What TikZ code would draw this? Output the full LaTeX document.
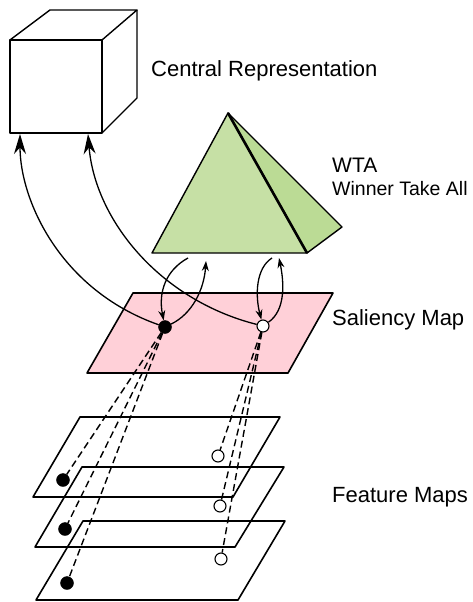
\documentclass[tikz,border=0pt]{standalone}
\usepackage{fontspec}
\setmainfont{Liberation Sans}
\usetikzlibrary{arrows.meta}
\definecolor{wtafront}{HTML}{C6E0A5}
\definecolor{wtaside}{HTML}{BBDB95}
\definecolor{salpink}{HTML}{FFD0D8}
\tikzset{
  blackdot/.style={circle, fill=black, draw=black, inner sep=0pt, minimum size=13pt},
  whitedot/.style={circle, fill=white, draw=black, line width=1.1pt, inner sep=0pt, minimum size=12pt},
  bigarrow/.style={-{Stealth[length=20pt, width=12pt]}, line width=1.3pt},
  smallarrow/.style={-{Stealth[length=10pt, width=7pt]}, line width=1.3pt},
  link/.style={dashed, dash pattern=on 7pt off 4pt, line width=1.4pt},
  mapedge/.style={line width=1.6pt, line join=round},
  label/.style={anchor=base west, inner sep=0pt, font=\fontsize{22}{26}\selectfont}
}
\begin{document}
\begin{tikzpicture}[x=1pt, y=-1pt]
        \useasboundingbox (0,0) rectangle (472,602);

        % central representation
        \draw[line width=1.4pt, line join=round] (10,40) rectangle (102,133);
        \draw[line width=1.4pt, line join=round] (10,40) -- (50,10) -- (137,10) -- (102,40);
        \draw[line width=1.4pt, line join=round] (137,10) -- (137,98) -- (102,133);
        \coordinate (c1) at (20,134);
        \coordinate (c2) at (88,134);
        \node[label] (central) at (151,77) {Central Representation};

        % winner take all
        \filldraw[fill=wtaside, draw=black, line width=1.4pt, line join=round] (228,113) -- (342,227) -- (307,253) -- cycle;
        \filldraw[fill=wtafront, draw=black, line width=1.4pt, line join=round] (228,113) -- (152,253) -- (307,253) -- cycle;
        \draw[line width=2.6pt] (228,113) -- (307,253);
        \coordinate (w1) at (188,258);
        \coordinate (w2) at (206,261);
        \coordinate (w3) at (272,258);
        \coordinate (w4) at (279,258);
        \node[label, font=\fontsize{21}{25}\selectfont] (wta) at (332,172) {WTA};
        \node[label, font=\fontsize{19.5}{23}\selectfont] (wtafull) at (332,195) {Winner Take All};

        % saliency map
        \filldraw[fill=salpink, draw=black, mapedge] (133,293) -- (333,293) -- (288,373) -- (87,373) -- cycle;
        \node[label] (saliency) at (332,325) {Saliency Map};

        % feature maps
        \draw[mapedge] (80,417) -- (280,417) -- (233,497) -- (33,497) -- cycle;
        \draw[mapedge] (82,467) -- (284,467) -- (235,547) -- (35,547) -- cycle;
        \draw[mapedge] (83,521) -- (285,521) -- (238,600) -- (36,600) -- cycle;
        \node[label] (feature) at (332,502) {Feature Maps};

        % locations
        \node[blackdot] (s1) at (165,327) {};
        \node[whitedot] (s2) at (263,326) {};
        \node[blackdot] (f1) at (63,480) {};
        \node[blackdot] (f2) at (65,529) {};
        \node[blackdot] (f3) at (67,583) {};
        \node[whitedot] (g1) at (218,456) {};
        \node[whitedot] (g2) at (220,506) {};
        \node[whitedot] (g3) at (221,559) {};

        \draw[link] (s1) -- (f1);
        \draw[link] (s1) -- (f2);
        \draw[link] (s1) -- (f3);
        \draw[link] (s2) -- (g1);
        \draw[link] (s2) -- (g2);
        \draw[link] (s2) -- (g3);

        % arrows
        \draw[bigarrow] (s1) .. controls (60,290) and (20,200) .. (c1);
        \draw[bigarrow] (s2) .. controls (160,300) and (95,220) .. (c2);
        \draw[smallarrow] (w1) .. controls (166,270) and (158,292) .. (s1);
        \draw[smallarrow] (s1) .. controls (192,314) and (204,290) .. (w2);
        \draw[smallarrow] (w3) .. controls (256,268) and (255,295) .. (s2);
        \draw[smallarrow] (s2) .. controls (286,310) and (284,282) .. (w4);
    \end{tikzpicture}
\end{document}
